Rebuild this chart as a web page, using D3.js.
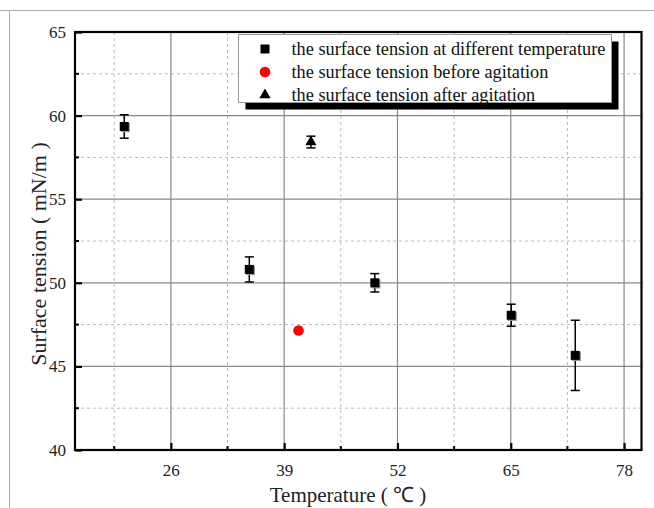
<!DOCTYPE html>
<html>
<head>
<meta charset="utf-8">
<script src="https://cdn.jsdelivr.net/npm/d3@7"></script>
<style>
  body { margin: 0; background: #fff; }
  svg { font-family: "Liberation Serif", "Times New Roman", serif; }
</style>
</head>
<body>
<svg id="chart"></svg>
<script>
// Data
var tempValues = [20.65, 35.0, 49.4, 65.05, 72.4];
var tensionValues = [59.35, 50.8, 50.0, 48.06, 45.66];
var tensionErrors = [0.7, 0.75, 0.55, 0.66, 2.1];

var beforeTemp = [40.65];
var beforeTension = [47.15];

var afterTemp = [42.07];
var afterTension = [58.42];
var afterError = [0.35];

var xTicks = [26, 39, 52, 65, 78];
var yTicks = [40, 45, 50, 55, 60, 65];

var legendLabels = [
    'the surface tension at different temperature',
    'the surface tension before agitation',
    'the surface tension after agitation'
];

var width = 654;
var height = 508;
// plot box edges (don't call it "top", window.top is taken)
var plotL = 75, plotR = 641.5, plotT = 32, plotB = 450;

var svg = d3.select('#chart')
    .attr('width', width)
    .attr('height', height);

// Page frame lines
svg.append('line').attr('x1', 0).attr('x2', width).attr('y1', 10.5).attr('y2', 10.5)
    .attr('stroke', '#aaa').attr('stroke-width', 1);
svg.append('line').attr('x1', 9.5).attr('x2', 9.5).attr('y1', 10).attr('y2', height)
    .attr('stroke', '#aaa').attr('stroke-width', 1);

var xScale = d3.scaleLinear().domain([15, 80]).range([plotL, plotR]);
var yScale = d3.scaleLinear().domain([40, 65]).range([plotB, plotT]);

var xMinor = xTicks.map(d => d - 6.5);
var yMinor = yTicks.slice(0, -1).map(d => d + 2.5);

// Minor grid (dashed)
svg.append('g').selectAll('line').data(xMinor).enter().append('line')
    .attr('x1', d => xScale(d)).attr('x2', d => xScale(d))
    .attr('y1', plotT).attr('y2', plotB)
    .attr('stroke', '#bbb').attr('stroke-dasharray', '3,3');
svg.append('g').selectAll('line').data(yMinor).enter().append('line')
    .attr('y1', d => yScale(d)).attr('y2', d => yScale(d))
    .attr('x1', plotL).attr('x2', plotR)
    .attr('stroke', '#bbb').attr('stroke-dasharray', '3,3');

// Major grid (solid)
svg.append('g').selectAll('line').data(xTicks).enter().append('line')
    .attr('x1', d => xScale(d)).attr('x2', d => xScale(d))
    .attr('y1', plotT).attr('y2', plotB)
    .attr('stroke', '#888').attr('stroke-width', 1.2);
svg.append('g').selectAll('line').data(yTicks.slice(1, -1)).enter().append('line')
    .attr('y1', d => yScale(d)).attr('y2', d => yScale(d))
    .attr('x1', plotL).attr('x2', plotR)
    .attr('stroke', '#888').attr('stroke-width', 1.2);

// Axes with inward ticks
var xAxis = d3.axisBottom(xScale).tickValues(xTicks).tickSize(-7).tickPadding(14).tickFormat(d3.format('d'));
var gx = svg.append('g')
    .attr('transform', `translate(0, ${plotB})`)
    .call(xAxis);
var yAxis = d3.axisLeft(yScale).tickValues(yTicks).tickSize(-7).tickPadding(9).tickFormat(d3.format('d'));
var gy = svg.append('g')
    .attr('transform', `translate(${plotL}, 0)`)
    .call(yAxis);
[gx, gy].forEach(function(g) {
    g.select('.domain').remove();
    g.selectAll('.tick line').attr('stroke', '#000').attr('stroke-width', 2.2);
    g.selectAll('.tick text').attr('font-size', 17).attr('fill', '#222')
        .attr('font-family', '"Liberation Serif", serif');
});

// minor ticks
svg.append('g').selectAll('line').data(xMinor).enter().append('line')
    .attr('x1', d => xScale(d)).attr('x2', d => xScale(d))
    .attr('y1', plotB).attr('y2', plotB - 4)
    .attr('stroke', '#000').attr('stroke-width', 2);
svg.append('g').selectAll('line').data(yMinor).enter().append('line')
    .attr('y1', d => yScale(d)).attr('y2', d => yScale(d))
    .attr('x1', plotL).attr('x2', plotL + 4)
    .attr('stroke', '#000').attr('stroke-width', 2);

// Frame
svg.append('rect')
    .attr('x', plotL).attr('y', plotT)
    .attr('width', plotR - plotL).attr('height', plotB - plotT)
    .attr('fill', 'none').attr('stroke', '#000').attr('stroke-width', 2.2);

// Axis labels
svg.append('text')
    .attr('x', 348).attr('y', 502)
    .attr('text-anchor', 'middle')
    .attr('font-size', 21).attr('fill', '#222')
    .text('Temperature ( ℃ )');

svg.append('text')
    .attr('transform', 'translate(46, 254) rotate(-90)')
    .attr('text-anchor', 'middle')
    .attr('font-size', 22).attr('fill', '#222')
    .text('Surface tension ( mN/m )');

// Error bars
var points = tempValues.map((t, i) => ({x: t, y: tensionValues[i], e: tensionErrors[i]}));
var afterPts = afterTemp.map((t, i) => ({x: t, y: afterTension[i], e: afterError[i]}));

function drawErr(data) {
    var g = svg.append('g').attr('stroke', '#000').attr('stroke-width', 1.5);
    g.selectAll('.v').data(data).enter().append('line')
        .attr('x1', d => xScale(d.x)).attr('x2', d => xScale(d.x))
        .attr('y1', d => yScale(d.y + d.e)).attr('y2', d => yScale(d.y - d.e));
    g.selectAll('.t').data(data).enter().append('line')
        .attr('x1', d => xScale(d.x) - 4.5).attr('x2', d => xScale(d.x) + 4.5)
        .attr('y1', d => yScale(d.y + d.e)).attr('y2', d => yScale(d.y + d.e));
    g.selectAll('.b').data(data).enter().append('line')
        .attr('x1', d => xScale(d.x) - 4.5).attr('x2', d => xScale(d.x) + 4.5)
        .attr('y1', d => yScale(d.y - d.e)).attr('y2', d => yScale(d.y - d.e));
}
drawErr(points);
drawErr(afterPts);

// Squares
var sq = 9;
svg.append('g').selectAll('rect').data(points).enter().append('rect')
    .attr('x', d => xScale(d.x) - sq / 2 + 1.2).attr('y', d => yScale(d.y) - sq / 2 + 1.2)
    .attr('width', sq).attr('height', sq).attr('fill', '#999');
svg.append('g').selectAll('rect').data(points).enter().append('rect')
    .attr('x', d => xScale(d.x) - sq / 2).attr('y', d => yScale(d.y) - sq / 2)
    .attr('width', sq).attr('height', sq).attr('fill', '#000');

// Red circle
svg.append('g').selectAll('circle').data(beforeTemp).enter().append('circle')
    .attr('cx', d => xScale(d)).attr('cy', (d, i) => yScale(beforeTension[i]))
    .attr('r', 5.3).attr('fill', '#f00');

// Triangle
var tri = d3.symbol().type(d3.symbolTriangle).size(55);
svg.append('g').selectAll('path').data(afterPts).enter().append('path')
    .attr('d', tri)
    .attr('transform', d => `translate(${xScale(d.x)}, ${yScale(d.y)})`)
    .attr('fill', '#000');

// Legend
var lx = 238.5, ly = 34.5, lw = 373, lh = 68;
svg.append('rect').attr('x', lx + 7).attr('y', ly + 7).attr('width', lw).attr('height', lh).attr('fill', '#000');
svg.append('rect').attr('x', lx).attr('y', ly).attr('width', lw).attr('height', lh)
    .attr('fill', '#fff').attr('stroke', '#999').attr('stroke-width', 1);

var legend = svg.append('g').selectAll('g').data(legendLabels).enter().append('g')
    .attr('transform', (d, i) => `translate(${lx}, ${ly + 14.5 + i * 23})`);
legend.append('text')
    .attr('x', 53).attr('y', 6)
    .attr('font-size', 18.3).attr('fill', '#111')
    .text(d => d);

var sym0 = legend.filter((d, i) => i === 0);
sym0.append('rect').attr('x', 26.5 - 4.5).attr('y', -4.5).attr('width', 9).attr('height', 9).attr('fill', '#000');
legend.filter((d, i) => i === 1).append('circle').attr('cx', 26.5).attr('cy', 0).attr('r', 5.3).attr('fill', '#f00');
legend.filter((d, i) => i === 2).append('path').attr('d', tri).attr('transform', 'translate(26.5, 0)').attr('fill', '#000');
</script>
</body>
</html>
